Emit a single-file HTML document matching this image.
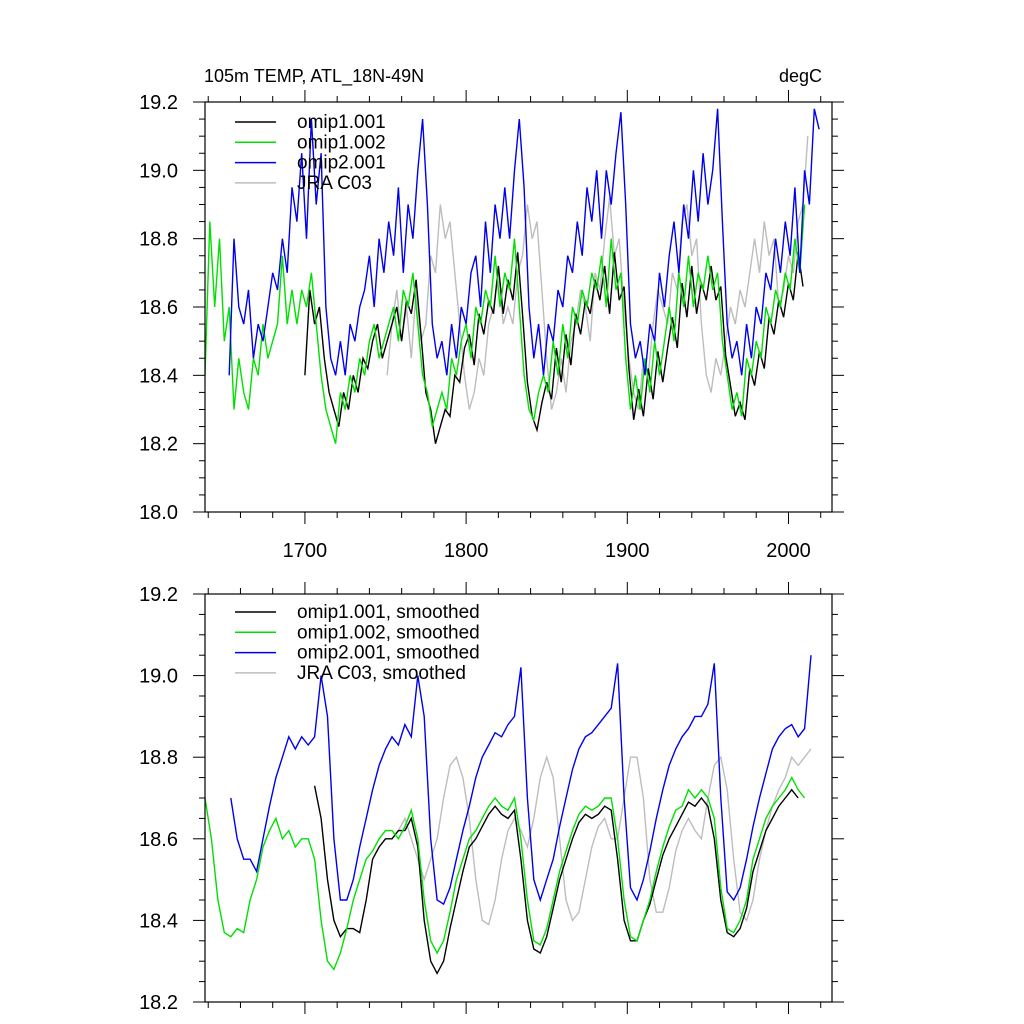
<!DOCTYPE html>
<html><head><meta charset="utf-8"><style>
body{margin:0;background:#fff}
svg{display:block;font-family:"Liberation Sans",sans-serif}
</style></head><body>
<svg id="chart" width="1024" height="1024" viewBox="0 0 1024 1024">
<rect width="1024" height="1024" fill="#fff"/>
<text x="204" y="82" font-size="18">105m TEMP, ATL_18N-49N</text>
<text x="822" y="82" font-size="18" text-anchor="end">degC</text>
<g id="g1"></g><g id="g2"></g>
</svg>
<script>
const xTicks=[1700,1800,1900,2000];
const yTicksTop=[18.0,18.2,18.4,18.6,18.8,19.0,19.2];
const yTicksBot=[18.2,18.4,18.6,18.8,19.0,19.2];
const rawStep=3, smStep=4;
const greenRawStart=1638;
const greenRaw=[18.4,18.85,18.6,18.8,18.5,18.6,18.3,18.45,18.35,18.3,18.45,18.4,18.55,18.45,18.5,18.55,18.75,18.55,18.65,18.55,18.65,18.6,18.7,18.55,18.4,18.3,18.25,18.2,18.35,18.3,18.4,18.35,18.45,18.4,18.5,18.55,18.45,18.5,18.55,18.6,18.5,18.65,18.6,18.7,18.55,18.4,18.35,18.25,18.3,18.35,18.3,18.45,18.4,18.5,18.55,18.45,18.6,18.55,18.65,18.6,18.75,18.6,18.7,18.65,18.8,18.6,18.4,18.3,18.27,18.35,18.4,18.35,18.5,18.4,18.55,18.45,18.6,18.55,18.65,18.6,18.7,18.65,18.75,18.6,18.8,18.65,18.7,18.45,18.3,18.4,18.3,18.45,18.35,18.5,18.4,18.5,18.6,18.5,18.7,18.6,18.75,18.6,18.7,18.65,18.75,18.65,18.7,18.5,18.4,18.3,18.35,18.28,18.45,18.4,18.5,18.45,18.6,18.55,18.65,18.6,18.7,18.65,18.8,18.7,18.9];
const blackRawStart=1700;
const blackRaw=[18.4,18.65,18.55,18.6,18.45,18.35,18.3,18.25,18.35,18.3,18.4,18.35,18.45,18.42,18.5,18.55,18.45,18.5,18.55,18.6,18.5,18.62,18.58,18.68,18.52,18.35,18.3,18.2,18.25,18.3,18.28,18.4,18.38,18.48,18.52,18.43,18.58,18.52,18.62,18.58,18.72,18.58,18.68,18.62,18.76,18.58,18.38,18.28,18.24,18.32,18.38,18.33,18.48,18.38,18.52,18.43,18.58,18.52,18.62,18.58,18.68,18.62,18.72,18.58,18.76,18.62,18.66,18.42,18.27,18.36,18.28,18.42,18.33,18.47,18.38,18.48,18.57,18.48,18.67,18.57,18.72,18.58,18.67,18.62,18.72,18.62,18.66,18.46,18.37,18.28,18.32,18.27,18.42,18.37,18.47,18.42,18.57,18.52,18.62,18.57,18.67,18.62,18.76,18.66];
const blueRawStart=1653;
const blueRaw=[18.4,18.8,18.6,18.55,18.65,18.45,18.55,18.5,18.6,18.7,18.65,18.8,18.7,18.95,18.85,19.05,18.8,19.15,18.9,19.05,18.6,18.45,18.4,18.5,18.4,18.55,18.5,18.6,18.65,18.75,18.6,18.8,18.7,18.85,18.75,18.95,18.7,18.9,18.8,19.0,19.15,18.9,18.55,18.45,18.5,18.4,18.55,18.45,18.6,18.55,18.7,18.75,18.6,18.85,18.7,18.9,18.8,18.95,18.8,19.0,19.15,18.95,18.6,18.45,18.55,18.4,18.55,18.5,18.65,18.6,18.75,18.7,18.85,18.75,18.95,18.85,19.0,18.8,19.0,18.9,19.05,19.17,18.9,18.55,18.45,18.5,18.4,18.55,18.5,18.7,18.6,18.75,18.85,18.7,18.9,18.8,19.0,18.85,19.05,18.9,19.0,19.18,18.85,18.55,18.45,18.5,18.4,18.55,18.45,18.6,18.55,18.7,18.65,18.8,18.7,18.85,18.75,18.95,18.7,19.0,18.9,19.18,19.12];
const grayRawStart=1751;
const grayRaw=[18.4,18.55,18.65,18.5,18.6,18.45,18.65,18.5,18.55,18.75,18.7,18.9,18.8,18.85,18.7,18.55,18.4,18.3,18.35,18.45,18.4,18.55,18.6,18.7,18.55,18.6,18.55,18.7,18.75,18.9,18.8,18.85,18.65,18.45,18.3,18.35,18.45,18.35,18.5,18.55,18.65,18.6,18.5,18.7,18.65,18.8,18.92,18.75,18.8,18.6,18.45,18.35,18.3,18.45,18.4,18.55,18.65,18.6,18.55,18.7,18.65,18.85,18.9,18.75,18.8,18.55,18.4,18.35,18.45,18.4,18.5,18.6,18.55,18.65,18.6,18.7,18.8,18.7,18.85,18.75,18.8,18.6,18.65,18.75,18.7,18.85,18.9,19.1];
const greenSmStart=1638;
const greenSm=[18.7,18.6,18.45,18.37,18.36,18.38,18.37,18.45,18.5,18.58,18.62,18.65,18.6,18.62,18.58,18.6,18.6,18.55,18.4,18.3,18.28,18.32,18.38,18.45,18.5,18.55,18.57,18.6,18.62,18.62,18.6,18.63,18.67,18.6,18.45,18.35,18.32,18.35,18.42,18.5,18.55,18.6,18.62,18.65,18.68,18.7,18.68,18.67,18.7,18.6,18.45,18.35,18.34,18.38,18.45,18.52,18.57,18.62,18.66,18.68,18.67,18.68,18.7,18.7,18.6,18.45,18.36,18.35,18.4,18.45,18.52,18.58,18.63,18.67,18.68,18.72,18.7,18.72,18.7,18.65,18.48,18.38,18.37,18.4,18.45,18.55,18.6,18.65,18.68,18.7,18.72,18.75,18.72,18.7];
const blackSmStart=1706;
const blackSm=[18.73,18.65,18.5,18.4,18.36,18.38,18.38,18.37,18.45,18.55,18.58,18.6,18.6,18.62,18.62,18.65,18.58,18.4,18.3,18.27,18.3,18.38,18.45,18.52,18.58,18.6,18.63,18.66,18.68,18.66,18.65,18.67,18.55,18.4,18.33,18.32,18.36,18.43,18.5,18.55,18.6,18.64,18.66,18.65,18.66,18.68,18.67,18.55,18.4,18.35,18.35,18.4,18.44,18.5,18.56,18.6,18.63,18.66,18.69,18.68,18.7,18.68,18.6,18.45,18.37,18.36,18.38,18.43,18.52,18.57,18.62,18.65,18.68,18.7,18.72,18.7];
const blueSmStart=1654;
const blueSm=[18.7,18.6,18.55,18.55,18.52,18.6,18.68,18.75,18.8,18.85,18.82,18.85,18.83,18.85,19.0,18.9,18.6,18.45,18.45,18.5,18.58,18.65,18.72,18.78,18.82,18.85,18.83,18.88,18.85,19.0,18.9,18.6,18.45,18.44,18.48,18.55,18.62,18.68,18.75,18.8,18.83,18.86,18.85,18.88,18.9,19.02,18.7,18.5,18.45,18.5,18.55,18.63,18.7,18.77,18.82,18.85,18.86,18.88,18.9,18.92,19.03,18.7,18.48,18.45,18.5,18.57,18.65,18.72,18.78,18.82,18.85,18.87,18.9,18.9,18.93,19.03,18.7,18.47,18.45,18.48,18.55,18.63,18.7,18.76,18.82,18.85,18.87,18.88,18.85,18.87,19.05];
const graySmStart=1754;
const graySm=[18.6,18.62,18.65,18.6,18.55,18.5,18.55,18.6,18.7,18.78,18.8,18.75,18.65,18.5,18.4,18.39,18.45,18.55,18.62,18.65,18.62,18.58,18.65,18.75,18.8,18.75,18.6,18.45,18.4,18.42,18.5,18.58,18.63,18.65,18.6,18.6,18.7,18.8,18.8,18.7,18.5,18.42,18.42,18.48,18.57,18.62,18.65,18.62,18.6,18.7,18.78,18.8,18.72,18.55,18.42,18.4,18.45,18.55,18.62,18.68,18.72,18.75,18.8,18.78,18.8,18.82];

const NS='http://www.w3.org/2000/svg';
const X0=205,X1=832,XMIN=1638,XMAX=2027;
function xs(yr){return X0+(yr-XMIN)/(XMAX-XMIN)*(X1-X0);}
function mk(tag,attrs,parent){const e=document.createElementNS(NS,tag);for(const k in attrs)e.setAttribute(k,attrs[k]);parent.appendChild(e);return e;}

function panel(g,top,bot,ymin,ymax,yticks,showX,series,legend,legY,name){
  const ys=v=>bot-(v-ymin)/(ymax-ymin)*(bot-top);
  
  
  const cp=mk('clipPath',{id:'c'+name},g);
  mk('rect',{x:X0,y:top,width:X1-X0,height:bot-top},cp);
  series.forEach(s=>{
    let d='';
    s.vals.forEach((v,i)=>{d+=(i?'L':'M')+xs(s.start+i*s.step).toFixed(1)+' '+ys(v).toFixed(1);});
    const p=mk('path',{d:d,fill:'none',stroke:s.color,'stroke-width':1.4,'clip-path':'url(#c'+name+')'},g);
    
    
  });
  const fr=mk('rect',{x:X0,y:top,width:X1-X0,height:bot-top,fill:'none',stroke:'#000','stroke-width':1.2},g);
  
  
  for(let v=ymin;v<=ymax+1e-6;v+=0.05){
    const major=Math.abs(Math.round(v*5)-v*5)<1e-6;const L=major?12:6;const y=ys(v);
    mk('line',{x1:X0-L,x2:X0,y1:y,y2:y,stroke:'#000','stroke-width':1},g);
    mk('line',{x1:X1,x2:X1+L,y1:y,y2:y,stroke:'#000','stroke-width':1},g);
  }
  yticks.forEach(v=>{
    const t=mk('text',{x:178,y:ys(v)+7,'font-size':20,'text-anchor':'end'},g);
    t.textContent=v.toFixed(1);
    
    
  });
  for(let yr=1640;yr<=2020;yr+=20){
    const major=yr%100===0;const L=major?12:6;const x=xs(yr);
    mk('line',{x1:x,x2:x,y1:top-L,y2:top,stroke:'#000','stroke-width':1},g);
    mk('line',{x1:x,x2:x,y1:bot,y2:bot+L,stroke:'#000','stroke-width':1},g);
  }
  if(showX) xTicks.forEach(yr=>{
    const t=mk('text',{x:xs(yr),y:bot+45,'font-size':20,'text-anchor':'middle'},g);
    t.textContent=yr;
    
    
  });
  legend.forEach((l,i)=>{
    const y=legY+i*20.3;
    const ln=mk('line',{x1:235,x2:276,y1:y,y2:y,stroke:l.color,'stroke-width':1.5},g);
    
    
    const t=mk('text',{x:297,y:y+6,'font-size':19},g);
    t.textContent=l.label;
    
    
  });
}
panel(document.getElementById('g1'),102,512,18.0,19.2,yTicksTop,true,[
 {name:'jra-c03-line',color:'#bdbdbd',start:grayRawStart,step:rawStep,vals:grayRaw},
 {name:'omip1-001-line',color:'#000',start:blackRawStart,step:rawStep,vals:blackRaw},
 {name:'omip1-002-line',color:'#00e000',start:greenRawStart,step:rawStep,vals:greenRaw},
 {name:'omip2-001-line',color:'#0000ee',start:blueRawStart,step:rawStep,vals:blueRaw}
],[{color:'#000',label:'omip1.001'},{color:'#00e000',label:'omip1.002'},{color:'#0000ee',label:'omip2.001'},{color:'#bdbdbd',label:'JRA C03'}],122,'top-panel');
panel(document.getElementById('g2'),594,1002,18.2,19.2,yTicksBot,false,[
 {name:'jra-c03-smoothed-line',color:'#bdbdbd',start:graySmStart,step:smStep,vals:graySm},
 {name:'omip1-001-smoothed-line',color:'#000',start:blackSmStart,step:smStep,vals:blackSm},
 {name:'omip1-002-smoothed-line',color:'#00e000',start:greenSmStart,step:smStep,vals:greenSm},
 {name:'omip2-001-smoothed-line',color:'#0000ee',start:blueSmStart,step:smStep,vals:blueSm}
],[{color:'#000',label:'omip1.001, smoothed'},{color:'#00e000',label:'omip1.002, smoothed'},{color:'#0000ee',label:'omip2.001, smoothed'},{color:'#bdbdbd',label:'JRA C03, smoothed'}],612,'bottom-panel');
</script>
</body></html>
